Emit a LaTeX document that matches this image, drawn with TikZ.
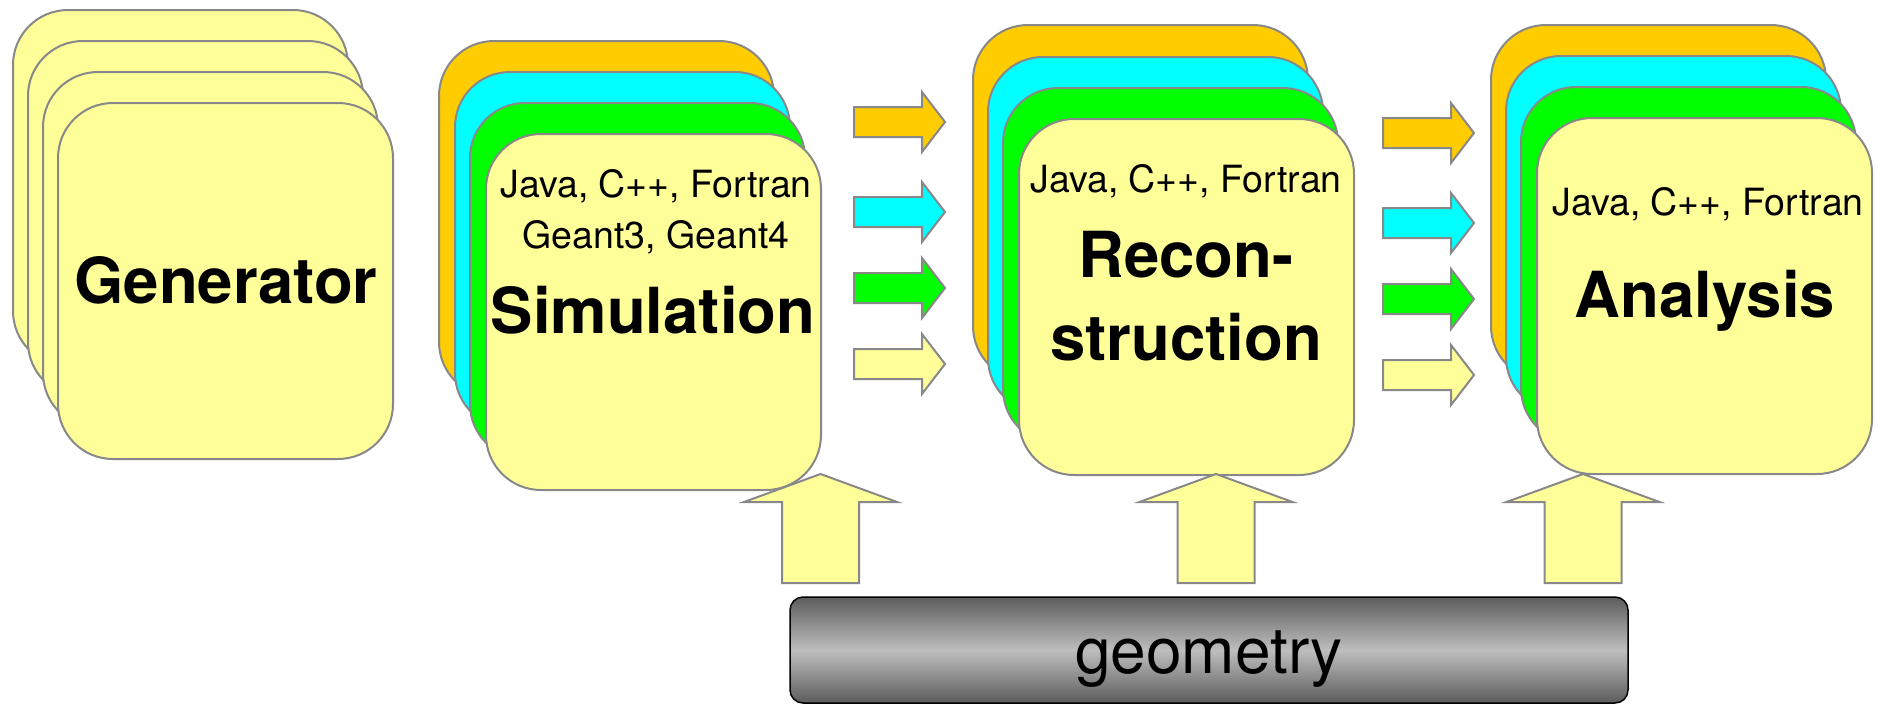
\documentclass[tikz,border=0pt]{standalone}
\usepackage{fontspec}
\setmainfont{TeX Gyre Heros}
\definecolor{edgegray}{HTML}{888888}
\definecolor{orng}{HTML}{FFCC00}
\definecolor{cyn}{HTML}{00FFFF}
\definecolor{grn}{HTML}{00FF00}
\definecolor{ylw}{HTML}{FFFF99}
\definecolor{bardark}{HTML}{5C5C5C}
\definecolor{barlight}{HTML}{BEBEBE}
\begin{document}
\begin{tikzpicture}[x=1pt,y=-1pt,
  card/.style={draw=edgegray, line width=2pt, rounded corners=55pt,
    minimum width=335pt, minimum height=356pt, anchor=north west,
    inner sep=0pt, outer sep=0pt},
  blk/.style={draw=edgegray, line width=2pt, line join=miter},
  small/.style={font=\fontsize{37.5}{40}\selectfont, anchor=base, inner sep=0pt},
  big/.style={font=\fontsize{63.5}{70}\selectfont\bfseries, anchor=base, inner sep=0pt},
  pics/rarrow/.style={code={
    \draw[blk, fill=#1] (0,-15) -- (68,-15) -- (68,-30) -- (91,0)
      -- (68,30) -- (68,15) -- (0,15) -- cycle;}},
  pics/uarrow/.style={code={
    \draw[blk, fill=ylw] (-38.5,0) -- (-38.5,-81) -- (-76.5,-81) -- (0,-109)
      -- (76.5,-81) -- (38.5,-81) -- (38.5,0) -- cycle;}},
]
\useasboundingbox (0,0) rectangle (1881,704);

% Generator stack
\node[card, fill=ylw] (gen1) at (13,10) {};
\node[card, fill=ylw] (gen2) at (28,41) {};
\node[card, fill=ylw] (gen3) at (43,72) {};
\node[card, fill=ylw] (gen4) at (58,103) {};
\node[big] (gentxt) at (226,303) {Generator};

% Simulation stack
\node[card, fill=orng] (sim1) at (439,41) {};
\node[card, fill=cyn]  (sim2) at (455,72) {};
\node[card, fill=grn]  (sim3) at (470,103) {};
\node[card, fill=ylw]  (sim4) at (486,134) {};
\node[small] (simlang) at (656,197) {Java, C++, Fortran};
\node[small] (simg4) at (656,248) {Geant3, Geant4};
\node[big] (simtxt) at (653,333) {Simulation};

% Reconstruction stack
\node[card, fill=orng] (rec1) at (973,25) {};
\node[card, fill=cyn]  (rec2) at (988,57) {};
\node[card, fill=grn]  (rec3) at (1003,88) {};
\node[card, fill=ylw]  (rec4) at (1019,119) {};
\node[small] (reclang) at (1186,192) {Java, C++, Fortran};
\node[big] (rectxt1) at (1186,277) {Recon-};
\node[big] (rectxt2) at (1186,360) {struction};

% Analysis stack
\node[card, fill=orng] (ana1) at (1491,25) {};
\node[card, fill=cyn]  (ana2) at (1506,56) {};
\node[card, fill=grn]  (ana3) at (1521,87) {};
\node[card, fill=ylw]  (ana4) at (1537,118) {};
\node[small] (analang) at (1708,215) {Java, C++, Fortran};
\node[big] (anatxt) at (1705,317) {Analysis};

% data flow between the stages
\pic at (854,122) {rarrow=orng};
\pic at (854,212) {rarrow=cyn};
\pic at (854,288) {rarrow=grn};
\pic at (854,364) {rarrow=ylw};
\pic at (1383,133) {rarrow=orng};
\pic at (1383,223) {rarrow=cyn};
\pic at (1383,299) {rarrow=grn};
\pic at (1383,375) {rarrow=ylw};

% geometry feeding each stage
\pic at (820.5,583) {uarrow};
\pic at (1216,583) {uarrow};
\pic at (1583,583) {uarrow};

% geometry bar
\node[draw=black, line width=1.5pt, rounded corners=13pt,
  top color=bardark, bottom color=bardark, middle color=barlight,
  minimum width=838pt, minimum height=106pt, anchor=north west,
  inner sep=0pt, outer sep=0pt] (geom) at (790,597) {};
\node[font=\fontsize{64}{70}\selectfont, anchor=base, inner sep=0pt]
  (geomtxt) at (1209,673) {geometry};
\end{tikzpicture}
\end{document}
